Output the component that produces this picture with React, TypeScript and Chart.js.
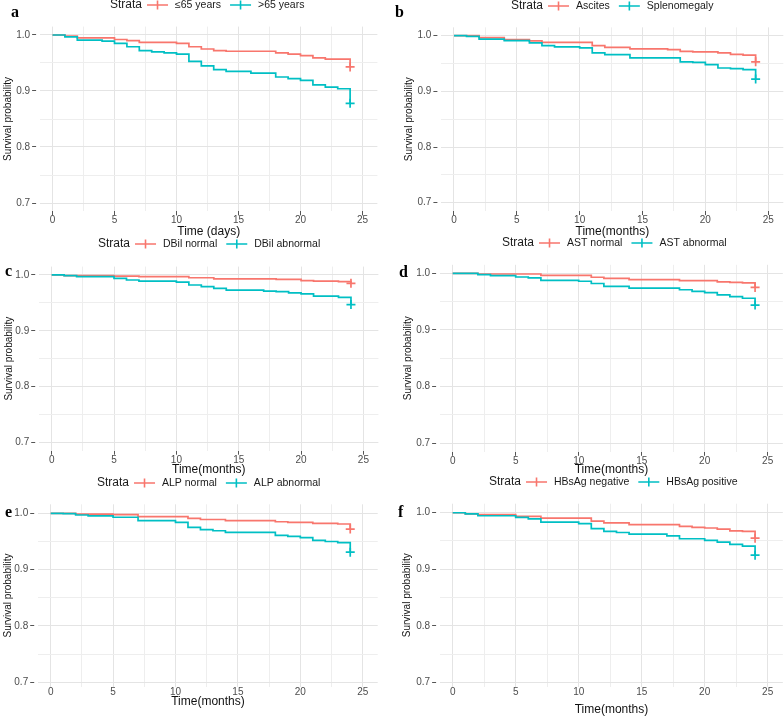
import React, { useEffect, useRef } from "react";
import { Chart, registerables } from "chart.js";

Chart.register(...registerables);

const RED = "#F8766D";
const TEAL = "#00BFC4";
const FONT = '"Liberation Sans", Arial, Helvetica, sans-serif';
const SERIF = '"Liberation Serif", "DejaVu Serif", Times, serif';

// ---------- axis ticks ----------
const X_TICKS = [0, 2.5, 5, 7.5, 10, 12.5, 15, 17.5, 20, 22.5, 25];
const Y_TICKS = [0.7, 0.75, 0.8, 0.85, 0.9, 0.95, 1.0];

// ---------- panel a : age ----------
const aLabels = ["≤65 years", ">65 years"];
const aTimeLow = [0, 1, 2, 5, 6, 7, 10, 11, 12, 13, 14, 18, 19, 20, 21, 22, 24];
const aSurvLow = [1, 0.998, 0.995, 0.992, 0.99, 0.987, 0.985, 0.979, 0.975, 0.972, 0.971, 0.968, 0.966, 0.963, 0.959, 0.957, 0.943];
const aTimeHigh = [0, 1, 2, 4, 5, 6, 7, 8, 9, 10, 11, 12, 13, 14, 16, 18, 19, 20, 21, 22, 23, 24];
const aSurvHigh = [1, 0.9965, 0.991, 0.989, 0.985, 0.979, 0.972, 0.97, 0.968, 0.966, 0.953, 0.945, 0.938, 0.935, 0.932, 0.925, 0.922, 0.919, 0.911, 0.907, 0.904, 0.878];

// ---------- panel b : ascites / splenomegaly ----------
const bLabels = ["Ascites", "Splenomegaly"];
const bTimeAsc = [0, 2, 4, 6, 7, 11, 12, 14, 17, 18, 19, 21, 22, 23, 24];
const bSurvAsc = [1, 0.9965, 0.993, 0.9906, 0.988, 0.982, 0.979, 0.9765, 0.975, 0.972, 0.971, 0.969, 0.9665, 0.965, 0.953];
const bTimeSpl = [0, 1, 2, 4, 6, 7, 8, 10, 11, 12, 14, 18, 19, 20, 21, 22, 23, 24];
const bSurvSpl = [1, 0.9988, 0.994, 0.991, 0.987, 0.982, 0.98, 0.978, 0.969, 0.966, 0.96, 0.953, 0.952, 0.948, 0.942, 0.941, 0.939, 0.922];

// ---------- panel c : DBil ----------
const cLabels = ["DBil normal", "DBil abnormal"];
const cTimeNorm = [0, 1, 5, 7, 11, 13, 18, 20, 21, 23, 24];
const cSurvNorm = [1, 0.999, 0.998, 0.997, 0.995, 0.993, 0.992, 0.99, 0.989, 0.988, 0.985];
const cTimeAbn = [0, 1, 2, 5, 6, 7, 10, 11, 12, 13, 14, 17, 18, 19, 20, 21, 23, 24];
const cSurvAbn = [1, 0.999, 0.997, 0.994, 0.991, 0.989, 0.987, 0.982, 0.979, 0.976, 0.973, 0.971, 0.97, 0.968, 0.966, 0.962, 0.96, 0.947];

// ---------- panel d : AST ----------
const dLabels = ["AST normal", "AST abnormal"];
const dTimeNorm = [0, 2, 7, 11, 12, 14, 18, 21, 22, 23, 24];
const dSurvNorm = [1, 0.9988, 0.9965, 0.993, 0.991, 0.989, 0.987, 0.985, 0.984, 0.983, 0.975];
const dTimeAbn = [0, 2, 3, 5, 6, 7, 10, 11, 12, 14, 18, 19, 20, 21, 22, 23, 24];
const dSurvAbn = [1, 0.9976, 0.996, 0.9935, 0.992, 0.9876, 0.986, 0.982, 0.977, 0.974, 0.971, 0.968, 0.966, 0.962, 0.959, 0.956, 0.944];

// ---------- panel e : ALP ----------
const eLabels = ["ALP normal", "ALP abnormal"];
const eTimeNorm = [0, 2, 5, 7, 11, 12, 14, 18, 19, 21, 23, 24];
const eSurvNorm = [1, 0.9985, 0.9976, 0.994, 0.991, 0.989, 0.987, 0.985, 0.984, 0.982, 0.981, 0.972];
const eTimeAbn = [0, 1, 2, 3, 5, 7, 10, 11, 12, 13, 14, 18, 19, 20, 21, 22, 23, 24];
const eSurvAbn = [1, 0.9995, 0.997, 0.9953, 0.993, 0.987, 0.984, 0.975, 0.971, 0.969, 0.966, 0.961, 0.959, 0.957, 0.952, 0.95, 0.948, 0.931];

// ---------- panel f : HBsAg ----------
const fLabels = ["HBsAg negative", "HBsAg positive"];
const fTimeNeg = [0, 1, 2, 5, 7, 11, 12, 14, 18, 19, 20, 21, 22, 23, 24];
const fSurvNeg = [1, 0.998, 0.9965, 0.9935, 0.9906, 0.985, 0.982, 0.979, 0.976, 0.974, 0.973, 0.971, 0.968, 0.967, 0.955];
const fTimePos = [0, 1, 2, 5, 6, 7, 10, 11, 12, 13, 14, 17, 18, 20, 21, 22, 23, 24];
const fSurvPos = [1, 0.998, 0.9947, 0.9918, 0.989, 0.9835, 0.9806, 0.972, 0.967, 0.965, 0.962, 0.959, 0.954, 0.951, 0.948, 0.944, 0.941, 0.925];

type Box = { x: number; y: number; w: number; h: number };
type Area = { l: number; t: number; r: number; b: number };
type PanelDef = {
  letter: string;
  letterX: number;
  letterY: number;
  legendX: number;
  legendY: number;
  labels: string[];
  series: [number[], number[]][];
  xTitle: string;
  cell: Box;
  area: Area;
  xMin: number;
  xMax: number;
  yMin: number;
  yMax: number;
  yTitleCX: number;
  xTitleCY: number;
  xTickPad: number;
  xDrawTicks: boolean;
};

const PANELS: PanelDef[] = [
  {
    letter: "a", letterX: 11, letterY: 17, legendX: 110, legendY: 5,
    labels: aLabels, series: [[aTimeLow, aSurvLow], [aTimeHigh, aSurvHigh]],
    xTitle: "Time (days)",
    cell: { x: 0, y: 0, w: 392, h: 238 },
    area: { l: 40.1, t: 26.6, r: 377.4, b: 211.4 },
    xMin: -1.0, xMax: 26.2, yMin: 0.685, yMax: 1.015,
    yTitleCX: 8.5, xTitleCY: 231.5, xTickPad: 0, xDrawTicks: true,
  },
  {
    letter: "b", letterX: 395, letterY: 17, legendX: 511, legendY: 6,
    labels: bLabels, series: [[bTimeAsc, bSurvAsc], [bTimeSpl, bSurvSpl]],
    xTitle: "Time(months)",
    cell: { x: 392, y: 0, w: 392, h: 238 },
    area: { l: 441.4, t: 27.35, r: 783.3, b: 211.05 },
    xMin: -1.0, xMax: 26.2, yMin: 0.685, yMax: 1.015,
    yTitleCX: 409.5, xTitleCY: 232, xTickPad: 0, xDrawTicks: true,
  },
  {
    letter: "c", letterX: 5, letterY: 276, legendX: 98, legendY: 244,
    labels: cLabels, series: [[cTimeNorm, cSurvNorm], [cTimeAbn, cSurvAbn]],
    xTitle: "Time(months)",
    cell: { x: 0, y: 236, w: 392, h: 242 },
    area: { l: 39.2, t: 266.6, r: 378.4, b: 450.7 },
    xMin: -1.0, xMax: 26.2, yMin: 0.685, yMax: 1.015,
    yTitleCX: 9, xTitleCY: 470, xTickPad: 0.5, xDrawTicks: true,
  },
  {
    letter: "d", letterX: 399, letterY: 277, legendX: 502, legendY: 243,
    labels: dLabels, series: [[dTimeNorm, dSurvNorm], [dTimeAbn, dSurvAbn]],
    xTitle: "Time(months)",
    cell: { x: 392, y: 236, w: 392, h: 242 },
    area: { l: 440.1, t: 264.8, r: 782.8, b: 451.8 },
    xMin: -1.0, xMax: 26.2, yMin: 0.685, yMax: 1.015,
    yTitleCX: 408, xTitleCY: 470, xTickPad: 0, xDrawTicks: true,
  },
  {
    letter: "e", letterX: 5, letterY: 517, legendX: 97, legendY: 483,
    labels: eLabels, series: [[eTimeNorm, eSurvNorm], [eTimeAbn, eSurvAbn]],
    xTitle: "Time(months)",
    cell: { x: 0, y: 476, w: 392, h: 242 },
    area: { l: 38.2, t: 504.3, r: 377.7, b: 686.8 },
    xMin: -1.0, xMax: 26.2, yMin: 0.692, yMax: 1.016,
    yTitleCX: 8, xTitleCY: 702, xTickPad: 0, xDrawTicks: false,
  },
  {
    letter: "f", letterX: 398, letterY: 517, legendX: 489, legendY: 482,
    labels: fLabels, series: [[fTimeNeg, fSurvNeg], [fTimePos, fSurvPos]],
    xTitle: "Time(months)",
    cell: { x: 392, y: 476, w: 392, h: 242 },
    area: { l: 440.1, t: 503.7, r: 782.8, b: 686.8 },
    xMin: -1.0, xMax: 26.2, yMin: 0.692, yMax: 1.016,
    yTitleCX: 407, xTitleCY: 710, xTickPad: 0, xDrawTicks: false,
  },
];

const COLORS = [RED, TEAL];
const MAJOR_GRID = "#e4e4e4";
const MINOR_GRID = "#eeeeee";
const TICK_COLOR = "#4d4d4d";
const CLEAR = "rgba(0,0,0,0)";

const isMajorX = (v: number) => Math.abs(v / 5 - Math.round(v / 5)) < 1e-6;
const isMajorY = (v: number) => Math.abs(v * 10 - Math.round(v * 10)) < 1e-6;

function decorPlugin(p: PanelDef) {
  return {
    id: "decor" + p.letter,
    afterDraw(chart: any) {
      const ctx = chart.ctx as CanvasRenderingContext2D;
      ctx.save();
      // panel letter
      ctx.font = `bold 16px ${SERIF}`;
      ctx.fillStyle = "#000";
      ctx.textAlign = "left";
      ctx.textBaseline = "alphabetic";
      ctx.fillText(p.letter, p.letterX - p.cell.x, p.letterY - p.cell.y);
      // legend
      let x = p.legendX - p.cell.x;
      const y = p.legendY - p.cell.y;
      ctx.textBaseline = "middle";
      ctx.font = `12px ${FONT}`;
      ctx.fillStyle = "#1a1a1a";
      ctx.fillText("Strata", x, y);
      x += ctx.measureText("Strata").width + 5;
      chart.data.datasets.forEach((ds: any) => {
        ctx.strokeStyle = ds.borderColor;
        ctx.lineWidth = 1.6;
        ctx.beginPath();
        ctx.moveTo(x, y);
        ctx.lineTo(x + 21, y);
        ctx.moveTo(x + 10.5, y - 4.5);
        ctx.lineTo(x + 10.5, y + 4.5);
        ctx.stroke();
        x += 28;
        ctx.font = `10.5px ${FONT}`;
        ctx.fillStyle = "#1a1a1a";
        ctx.fillText(ds.label, x, y);
        x += ctx.measureText(ds.label).width + 9;
      });
      ctx.restore();
    },
  };
}

function SurvPanel({ p }: { p: PanelDef }) {
  const ref = useRef<HTMLCanvasElement | null>(null);
  useEffect(() => {
    if (!ref.current) return;
    const yW = p.area.l - (p.yTitleCX - 5);
    const xH = p.xTitleCY + 6 - p.area.b;
    const padding = {
      left: p.area.l - p.cell.x - yW,
      top: p.area.t - p.cell.y,
      right: p.cell.x + p.cell.w - p.area.r,
      bottom: p.cell.y + p.cell.h - p.area.b - xH,
    };
    const datasets = p.series.map(([t, s], i) => ({
      label: p.labels[i],
      data: t.map((tv, k) => ({ x: tv, y: s[k] })),
      borderColor: COLORS[i],
      backgroundColor: COLORS[i],
      borderWidth: 1.7,
      stepped: "before" as const,
      fill: false,
      order: i === 0 ? 2 : 1,
      pointStyle: "cross" as const,
      pointRadius: (c: any) => (c.dataIndex === c.dataset.data.length - 1 ? 4.5 : 0),
      pointHoverRadius: (c: any) => (c.dataIndex === c.dataset.data.length - 1 ? 4.5 : 0),
      pointBorderColor: COLORS[i],
      pointBorderWidth: 1.7,
    }));
    const chart = new Chart(ref.current, {
      type: "line",
      data: { datasets },
      options: {
        responsive: false,
        animation: false,
        events: [],
        layout: { padding, autoPadding: false } as any,
        plugins: { legend: { display: false }, tooltip: { enabled: false } },
        scales: {
          x: {
            type: "linear",
            min: p.xMin,
            max: p.xMax,
            afterBuildTicks: (s: any) => {
              s.ticks = X_TICKS.map((v) => ({ value: v }));
            },
            afterFit: (s: any) => {
              s.height = xH;
            },
            ticks: {
              autoSkip: false,
              maxRotation: 0,
              minRotation: 0,
              padding: p.xTickPad,
              color: TICK_COLOR,
              font: { family: FONT, size: 10, lineHeight: 1 },
              callback: (v: any) => (isMajorX(Number(v)) ? String(v) : ""),
            },
            grid: {
              color: (c: any) => (c.tick && !isMajorX(c.tick.value) ? MINOR_GRID : MAJOR_GRID),
              lineWidth: 1,
              drawTicks: p.xDrawTicks,
              tickLength: 4,
              tickWidth: 1,
              tickColor: (c: any) => (c.tick && isMajorX(c.tick.value) ? "#555" : CLEAR),
            },
            border: { display: false },
            title: {
              display: true,
              text: p.xTitle,
              color: "#111",
              padding: 0,
              font: { family: FONT, size: 12, lineHeight: 1 },
            },
          },
          y: {
            type: "linear",
            min: p.yMin,
            max: p.yMax,
            afterBuildTicks: (s: any) => {
              s.ticks = Y_TICKS.map((v) => ({ value: v }));
            },
            afterFit: (s: any) => {
              s.width = yW;
            },
            ticks: {
              autoSkip: false,
              padding: 2,
              color: TICK_COLOR,
              font: { family: FONT, size: 10, lineHeight: 1 },
              callback: (v: any) => (isMajorY(Number(v)) ? Number(v).toFixed(1) : ""),
            },
            grid: {
              color: (c: any) => (c.tick && !isMajorY(c.tick.value) ? MINOR_GRID : MAJOR_GRID),
              lineWidth: 1,
              drawTicks: true,
              tickLength: 8,
              tickWidth: 1,
              tickBorderDash: [4, 4],
              tickColor: (c: any) => (c.tick && isMajorY(c.tick.value) ? "#555" : CLEAR),
            },
            border: { display: false },
            title: {
              display: true,
              text: "Survival probability",
              color: "#111",
              padding: 0,
              font: { family: FONT, size: 10, lineHeight: 1 },
            },
          },
        },
      } as any,
      plugins: [decorPlugin(p)],
    });
    return () => chart.destroy();
  }, [p]);
  return (
    <canvas
      ref={ref}
      width={p.cell.w}
      height={p.cell.h}
      style={{
        position: "absolute",
        left: p.cell.x,
        top: p.cell.y,
        width: p.cell.w,
        height: p.cell.h,
      }}
    />
  );
}

export default function App() {
  return (
    <div
      style={{
        position: "absolute",
        left: 0,
        top: 0,
        width: 784,
        height: 718,
        background: "#ffffff",
        overflow: "hidden",
      }}
    >
      {PANELS.map((p) => (
        <SurvPanel key={p.letter} p={p} />
      ))}
    </div>
  );
}
